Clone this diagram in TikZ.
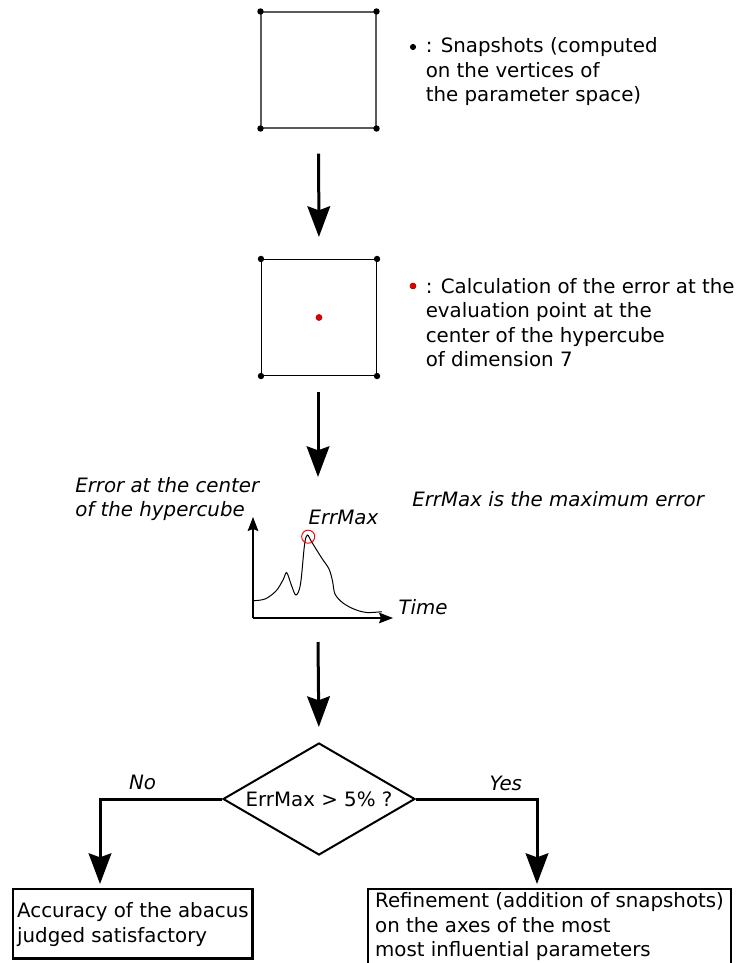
\documentclass[tikz,border=0pt]{standalone}
\usepackage{fontspec}
\setmainfont{DejaVu Sans}
\usetikzlibrary{arrows.meta,shapes.geometric}
\definecolor{sqgray}{HTML}{5A5A5A}
\definecolor{dotred}{HTML}{E00000}
\begin{document}
\begin{tikzpicture}[x=0.75pt,y=-0.75pt,
  every node/.style={font=\fontsize{14.85pt}{18.4pt}\selectfont},
  txt/.style={anchor=base west,inner sep=0pt,align=left},
  itxt/.style={txt,font=\fontsize{14.85pt}{18pt}\selectfont\itshape},
  sqbox/.style={draw,line width=0.8pt,minimum width=86.25pt,minimum height=87pt,inner sep=0pt},
  bigarrow/.style={line width=2.25pt,-{Stealth[length=23pt,width=17pt,inset=3pt]}},
  axisarrow/.style={line width=0.9pt,-{Stealth[length=10.5pt,width=8pt,inset=1.5pt]}},
  outbox/.style={draw,line width=1.75pt,anchor=north west,align=left,inner ysep=0pt},
  vtx/.style={fill=black},
]
\useasboundingbox (0,0) rectangle (736,963);

% ---- top square (snapshots)
\node[sqbox,draw=sqgray] (sq1) at (318.5,70) {};
\foreach \c in {north west,north east,south west,south east}
  \fill[vtx] (sq1.\c) circle[radius=2.4pt];
\fill[vtx] (413,47) circle[radius=2.3pt];
\node[txt] (t1) at (425.5,102) {: Snapshots (computed\\on the vertices of\\the parameter space)};

% ---- second square (evaluation point)
\node[sqbox] (sq2) at (319,317.5) {};
\foreach \c in {north west,north east,south west,south east}
  \fill[vtx] (sq2.\c) circle[radius=2.4pt];
\filldraw[fill=dotred,draw=red!60!black,line width=0.3pt] (sq2.center) circle[radius=2.3pt];
\filldraw[fill=dotred,draw=red!60!black,line width=0.3pt] (413,286) circle[radius=2.3pt];
\node[txt] (t2) at (425.5,366.7) {: Calculation of the error at the\\evaluation point at the\\center of the hypercube\\of dimension 7};

% ---- arrows between stages
\draw[bigarrow,shorten <=18.75pt,shorten >=16.5pt] (sq1.south) -- (sq2.north);
\coordinate (a2s) at (318,392);
\coordinate (a2e) at (318,477);
\draw[bigarrow] (a2s) -- (a2e);

% ---- graph
\coordinate (org) at (253,618);
\coordinate (ytip) at (253,517);
\coordinate (xtip) at (393,618);
\draw[axisarrow] (org) -- (ytip);
\draw[axisarrow] (org) -- (xtip);
\draw[line width=0.75pt] plot[smooth,tension=0.55] coordinates {
  (253.3,600.7) (265,599) (276,591) (283,580) (286.7,572.7) (291.5,585.5) (296,595)
  (300.5,584) (304.5,545) (307.3,535) (311.7,542) (321.7,558) (329,569)
  (332.5,581) (335,594) (343,603) (355,609.5) (367,612.5) (381.7,611.7)};
\draw[red,line width=0.7pt] (308.2,536.7) circle[radius=4.9pt];
\node[itxt] (ylab) at (75,516.7) {Error at the center\\of the hypercube};
\node[itxt] (emx) at (308.3,524) {ErrMax};
\node[itxt] (tlab) at (398.3,614) {Time};
\node[itxt] (note) at (412,506.7) {ErrMax is the maximum error};

\coordinate (a3s) at (318,642);
\draw[bigarrow,shorten >=12pt] (a3s) -- (319,743);

% ---- decision
\node[diamond,draw,line width=1.5pt,minimum width=144pt,minimum height=84pt,inner sep=0pt,aspect=1.72] (dec) at (319,799) {ErrMax > 5\% ?};
\coordinate (noin) at (100,884);
\coordinate (yesin) at (537,884);
\draw[bigarrow] (dec.west) -| (noin);
\draw[bigarrow] (dec.east) -| (yesin);
\node[itxt,anchor=base] (no) at (142.5,789) {No};
\node[itxt,anchor=base] (yes) at (505.8,790) {Yes};

% ---- outcomes
\node[outbox,inner xsep=3pt] (acc) at (12,888)
  {\rule{0pt}{21.5pt}Accuracy of the abacus\\judged satisfactory\rule[-12pt]{0pt}{0pt}};
\node[outbox,inner xsep=5.25pt] (ref) at (367,888)
  {\rule{0pt}{14pt}Refinement (addition of snapshots)\\on the axes of the most\\most influential parameters\rule[-16pt]{0pt}{0pt}};
\end{tikzpicture}
\end{document}
